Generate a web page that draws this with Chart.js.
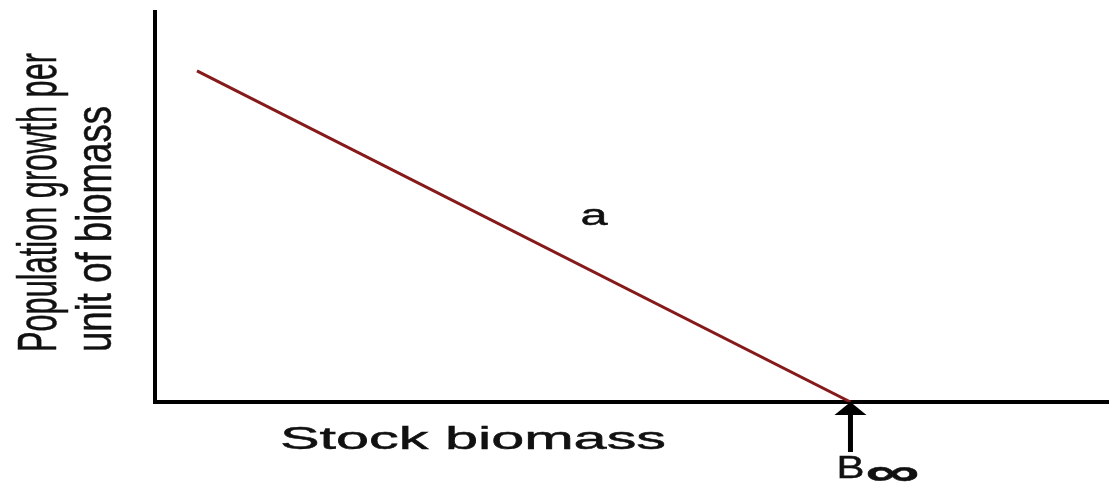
<!DOCTYPE html>
<html>
<head>
<meta charset="utf-8">
<script src="https://cdn.jsdelivr.net/npm/chart.js@4/dist/chart.umd.min.js"></script>
<style>
  html, body { margin: 0; padding: 0; background: #fff; }
  canvas { display: block; }
</style>
</head>
<body>
<canvas id="chart" width="1109" height="486"></canvas>
<script>
// stock biomass (x) vs growth per unit biomass (y), axis units 0-100
const stockBiomass = [4.4, 72.9];
const growthPerBiomass = [84.9, 0];
const bInfinity = 72.9;
const curveLabel = { text: 'a', x: 44.6, y: 45.3 };
const xTitle = 'Stock biomass';
const yTitleLines = ['Population growth per', 'unit of biomass'];

const FONT = '"Liberation Sans", Arial, sans-serif';

// draw text squeezed/stretched to a given width (the picture is stretched sideways)
function stretchText(ctx, text, x, y, font, width, thick) {
  ctx.save();
  ctx.font = font;
  const w = ctx.measureText(text).width;
  ctx.translate(x, y);
  ctx.scale(width / w, 1);
  ctx.fillText(text, 0, 0);
  if (thick) {
    ctx.lineWidth = thick;
    ctx.strokeText(text, 0, 0);
  }
  ctx.restore();
}

const labelsPlugin = {
  id: 'labels',
  afterDraw(chart) {
    const ctx = chart.ctx;
    const xs = chart.scales.x, ys = chart.scales.y;
    ctx.save();
    ctx.fillStyle = '#111';
    ctx.strokeStyle = '#111';
    ctx.textBaseline = 'alphabetic';
    ctx.textAlign = 'left';

    // curve label
    stretchText(ctx, curveLabel.text, xs.getPixelForValue(curveLabel.x), ys.getPixelForValue(curveLabel.y),
      '30px ' + FONT, 27, 0.5);

    // x axis title
    stretchText(ctx, xTitle, 280, 449, '32px ' + FONT, 386, 0.5);

    // y axis title, rotated, condensed along its length
    [[56, 56, 299], [111, 50, 246]].forEach(([bx, size, len], i) => {
      ctx.save();
      ctx.translate(bx, 352);
      ctx.rotate(-Math.PI / 2);
      stretchText(ctx, yTitleLines[i], 0, 0, size + 'px ' + FONT, len, 0.5);
      ctx.restore();
    });

    // arrow marking B-infinity
    const ax = xs.getPixelForValue(bInfinity);
    const y0 = ys.getPixelForValue(0);
    ctx.fillStyle = '#000';
    ctx.fillRect(ax - 2.5, y0 + 10, 5, 40);
    ctx.beginPath();
    ctx.moveTo(ax, y0);
    ctx.lineTo(ax + 16, y0 + 13);
    ctx.lineTo(ax - 16, y0 + 13);
    ctx.closePath();
    ctx.fill();

    ctx.fillStyle = '#111';
    stretchText(ctx, 'B', ax - 14, 478, '32px ' + FONT, 28, 0.5);
    stretchText(ctx, '\u221E', ax + 15, 485, 'bold 38px ' + FONT, 54, 0.5);
    ctx.restore();
  }
};

new Chart(document.getElementById('chart'), {
  type: 'line',
  data: {
    datasets: [{
      data: stockBiomass.map((x, i) => ({ x, y: growthPerBiomass[i] })),
      borderColor: '#861a1a',
      borderWidth: 3,
      pointRadius: 0,
      fill: false
    }]
  },
  options: {
    responsive: false,
    animation: false,
    layout: { padding: { left: 155, top: 12, right: 0, bottom: 84 } },
    plugins: { legend: { display: false }, tooltip: { enabled: false } },
    scales: {
      x: {
        type: 'linear', min: 0, max: 100,
        ticks: { display: false },
        grid: { display: false, drawTicks: false },
        border: { display: true, color: '#000', width: 4 },
        afterFit: s => { s.height = 0; }
      },
      y: {
        type: 'linear', min: 0, max: 100,
        ticks: { display: false },
        grid: { display: false, drawTicks: false },
        border: { display: true, color: '#000', width: 4 },
        afterFit: s => { s.width = 0; }
      }
    }
  },
  plugins: [labelsPlugin]
});
</script>
</body>
</html>
